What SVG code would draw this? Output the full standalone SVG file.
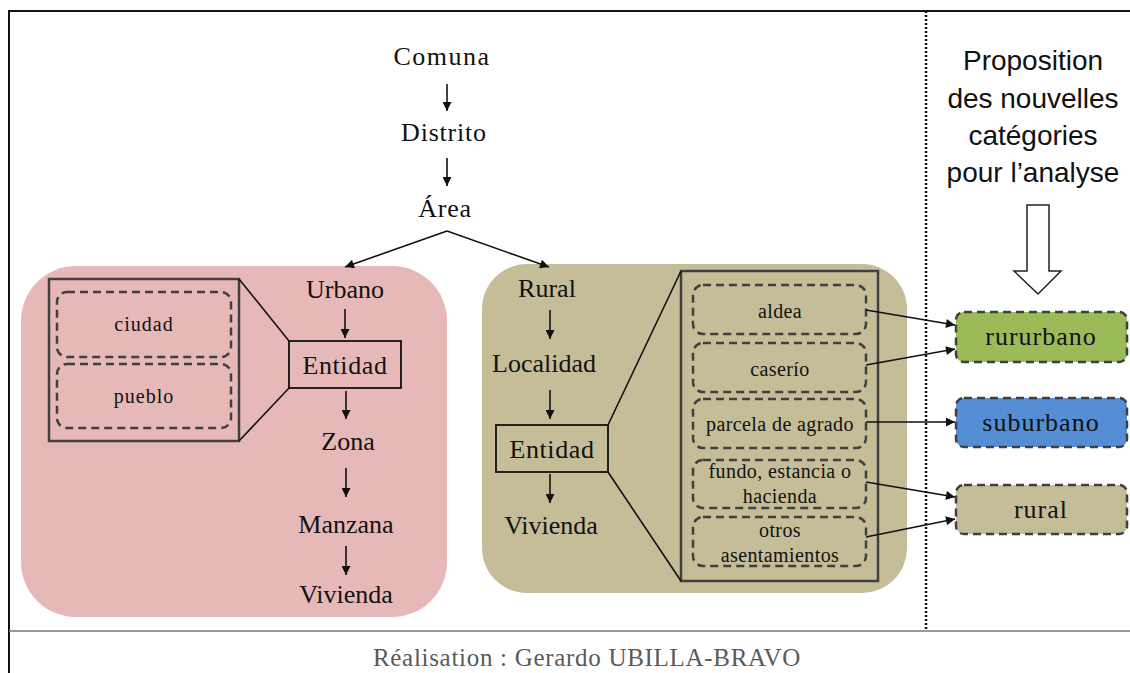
<svg xmlns="http://www.w3.org/2000/svg" width="1130" height="673" viewBox="0 0 1130 673">
<style>
.t{font-family:"Liberation Serif","Times New Roman",serif;fill:#111;text-anchor:middle}
.m{font-size:26px}
.s{font-size:20px;letter-spacing:0.4px}
.r{font-size:26px;letter-spacing:1px}
.sans{font-family:"Liberation Sans",Arial,sans-serif;font-size:28px;fill:#111;text-anchor:middle}
.ln{stroke:#111;stroke-width:1.6;fill:none}
.ar{stroke:#111;stroke-width:1.6;fill:none;marker-end:url(#ah)}
.box{fill:none;stroke:#404040;stroke-width:2.5}
.dash{fill:none;stroke:#404040;stroke-width:2.5;stroke-dasharray:8 5}
.ent{fill:none;stroke:#111;stroke-width:1.8}
</style>
<defs>
<marker id="ah" viewBox="0 0 10 10" refX="10" refY="5" markerWidth="10" markerHeight="9" markerUnits="userSpaceOnUse" orient="auto">
<path d="M0,0 L10,5 L0,10 z" fill="#111"/>
</marker>
</defs>
<rect width="1130" height="673" fill="#fff"/>
<g id="frame">
<line x1="9" y1="11" x2="1130" y2="11" stroke="#111" stroke-width="2"/>
<line x1="9" y1="10" x2="9" y2="673" stroke="#111" stroke-width="2"/>
<line x1="9" y1="631" x2="1130" y2="631" stroke="#777" stroke-width="1.5"/>
<line x1="926" y1="11" x2="926" y2="631" stroke="#111" stroke-width="2.5" stroke-dasharray="2 2"/>
</g>
<g id="urbano-panel">
<rect x="21" y="266" width="426" height="351" rx="55" fill="#e6b9b8"/>
</g>
<g id="rural-panel">
<rect x="482" y="264" width="425" height="329" rx="45" fill="#c4bd97"/>
</g>
<g id="comuna"><text class="t m" x="442" y="65" style="letter-spacing:1.5px">Comuna</text></g>
<g id="distrito"><text class="t m" x="444" y="141" style="letter-spacing:0.8px">Distrito</text></g>
<g id="area"><text class="t m" x="445" y="217" style="letter-spacing:0.8px">Área</text></g>
<g id="urbano"><text class="t m" x="345" y="298">Urbano</text></g>
<g id="entidad-u"><rect class="ent" x="289" y="341" width="112" height="47"/><text class="t m" x="345" y="374" style="letter-spacing:0.6px">Entidad</text></g>
<g id="zona"><text class="t m" x="348" y="450">Zona</text></g>
<g id="manzana"><text class="t m" x="346" y="533">Manzana</text></g>
<g id="vivienda-u"><text class="t m" x="346" y="603">Vivienda</text></g>
<g id="urbano-detail">
<rect class="box" x="49" y="279" width="190" height="162"/>
<line class="ln" x1="239" y1="279" x2="289" y2="341" stroke="#404040"/>
<line class="ln" x1="239" y1="441" x2="289" y2="388" stroke="#404040"/>
</g>
<g id="ciudad"><rect class="dash" x="57" y="292" width="174" height="65" rx="10"/><text class="t s" x="144" y="331" style="letter-spacing:1px">ciudad</text></g>
<g id="pueblo"><rect class="dash" x="57" y="364" width="174" height="64" rx="10"/><text class="t s" x="144" y="403" style="letter-spacing:1px">pueblo</text></g>
<g id="rural"><text class="t m" x="547" y="297">Rural</text></g>
<g id="localidad"><text class="t m" x="544" y="372">Localidad</text></g>
<g id="entidad-r"><rect class="ent" x="496" y="425" width="112" height="47"/><text class="t m" x="552" y="458" style="letter-spacing:0.6px">Entidad</text></g>
<g id="vivienda-r"><text class="t m" x="551" y="534">Vivienda</text></g>
<g id="rural-detail">
<rect class="box" x="681" y="271" width="197" height="310"/>
<line class="ln" x1="608" y1="425" x2="681" y2="271" stroke="#404040"/>
<line class="ln" x1="608" y1="472" x2="681" y2="581" stroke="#404040"/>
</g>
<g id="aldea"><rect class="dash" x="693" y="285" width="173" height="49" rx="10"/><text class="t s" x="780" y="318">aldea</text></g>
<g id="caserio"><rect class="dash" x="693" y="343" width="173" height="49" rx="10"/><text class="t s" x="780" y="376">caserío</text></g>
<g id="parcela"><rect class="dash" x="693" y="399" width="173" height="49" rx="10"/><text class="t s" x="780" y="431">parcela de agrado</text></g>
<g id="fundo"><rect class="dash" x="693" y="460" width="173" height="48" rx="10"/><text class="t s" x="780" y="478">fundo, estancia o</text><text class="t s" x="780" y="503">hacienda</text></g>
<g id="otros"><rect class="dash" x="693" y="517" width="173" height="49" rx="10"/><text class="t s" x="780" y="537">otros</text><text class="t s" x="780" y="562">asentamientos</text></g>
<g id="proposition">
<text class="sans" x="1033" y="70">Proposition</text>
<text class="sans" x="1033" y="108">des nouvelles</text>
<text class="sans" x="1033" y="145">catégories</text>
<text class="sans" x="1033" y="182">pour l’analyse</text>
<path d="M1027,205 H1049 V271 H1061 L1038,294 L1014,271 H1027 Z" fill="#fff" stroke="#222" stroke-width="1.5"/>
</g>
<g id="rururbano"><rect x="956" y="312" width="171" height="50" rx="8" fill="#9bbb59" stroke="#404040" stroke-width="2.5" stroke-dasharray="8 5"/><text class="t r" x="1041" y="345">rururbano</text></g>
<g id="suburbano"><rect x="956" y="398" width="171" height="49" rx="8" fill="#558ed5" stroke="#404040" stroke-width="2.5" stroke-dasharray="8 5"/><text class="t r" x="1041" y="431">suburbano</text></g>
<g id="rural-cat"><rect x="956" y="485" width="171" height="49" rx="8" fill="#c4bd97" stroke="#404040" stroke-width="2.5" stroke-dasharray="8 5"/><text class="t r" x="1041" y="518">rural</text></g>
<g id="connectors">
<line class="ar" x1="447" y1="84" x2="447" y2="111"/>
<line class="ar" x1="447" y1="158" x2="447" y2="186"/>
<polyline class="ar" points="447,231 345,267"/>
<polyline class="ar" points="447,231 549,267"/>
<line class="ar" x1="345" y1="309" x2="345" y2="338"/>
<line class="ar" x1="346" y1="391" x2="346" y2="419"/>
<line class="ar" x1="346" y1="468" x2="346" y2="497"/>
<line class="ar" x1="346" y1="546" x2="346" y2="575"/>
<line class="ar" x1="550" y1="310" x2="550" y2="339"/>
<line class="ar" x1="550" y1="390" x2="550" y2="419"/>
<line class="ar" x1="550" y1="474" x2="550" y2="503"/>
<line class="ar" x1="866" y1="310" x2="955" y2="325"/>
<line class="ar" x1="866" y1="365" x2="955" y2="349"/>
<line class="ar" x1="866" y1="422" x2="955" y2="422"/>
<line class="ar" x1="866" y1="482" x2="955" y2="497"/>
<line class="ar" x1="866" y1="537" x2="955" y2="519"/>
</g>
<g id="footer"><text class="t" x="587" y="666" style="font-size:25px;letter-spacing:0.7px;fill:#595959">Réalisation : Gerardo UBILLA-BRAVO</text></g>
</svg>
